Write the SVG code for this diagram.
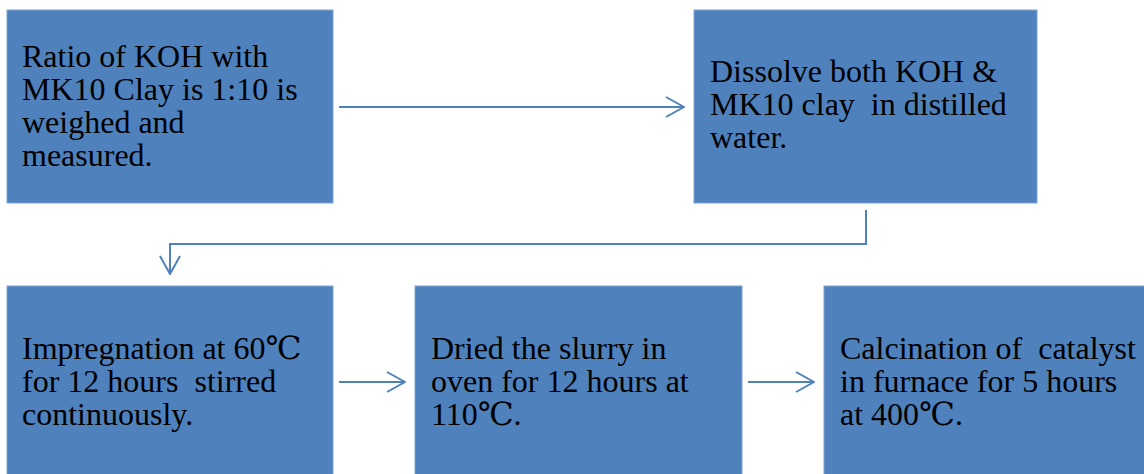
<svg xmlns="http://www.w3.org/2000/svg" width="1144" height="474" viewBox="0 0 1144 474">
  <style>
    .box { fill: #4F81BD; stroke: #7FA3D3; stroke-width: 1; }
    .t { font-family: 'Liberation Serif', 'Times New Roman', 'DejaVu Serif', serif; font-size: 32px; fill: #000; }
    .c { fill: none; stroke: #4F81BD; stroke-width: 2; }
  </style>
  <defs>
    <marker id="arr" viewBox="0 0 20 22" refX="19" refY="11" markerWidth="20" markerHeight="22" markerUnits="userSpaceOnUse" orient="auto">
      <path d="M1,1 L19,11 L1,21" fill="none" stroke="#4F81BD" stroke-width="2"/>
    </marker>
  </defs>
  <rect width="1144" height="474" fill="#fff"/>
  <g id="connectors">
    <line class="c" x1="339" y1="107" x2="684" y2="107" marker-end="url(#arr)"/>
    <polyline class="c" points="866,210 866,244 170,244 170,274" marker-end="url(#arr)"/>
    <line class="c" x1="339" y1="382" x2="405" y2="382" marker-end="url(#arr)"/>
    <line class="c" x1="748" y1="382" x2="814" y2="382" marker-end="url(#arr)"/>
  </g>
  <g id="node1">
    <rect class="box" x="7" y="10" width="326" height="193"/>
    <text class="t" xml:space="preserve"><tspan x="22" y="67">Ratio of KOH with</tspan><tspan x="22" y="100">MK10 Clay is 1:10 is</tspan><tspan x="22" y="133">weighed and</tspan><tspan x="22" y="166">measured.</tspan></text>
  </g>
  <g id="node2">
    <rect class="box" x="694" y="10" width="343" height="193"/>
    <text class="t" xml:space="preserve"><tspan x="710" y="82">Dissolve both KOH &amp;</tspan><tspan x="710" y="115">MK10 clay  in distilled</tspan><tspan x="710" y="148">water.</tspan></text>
  </g>
  <g id="node3">
    <rect class="box" x="7" y="286" width="326" height="200"/>
    <text class="t" xml:space="preserve"><tspan x="22" y="359">Impregnation at 60℃</tspan><tspan x="22" y="392">for 12 hours  stirred</tspan><tspan x="22" y="425">continuously.</tspan></text>
  </g>
  <g id="node4">
    <rect class="box" x="415" y="286" width="327" height="200"/>
    <text class="t" xml:space="preserve"><tspan x="431" y="359">Dried the slurry in</tspan><tspan x="431" y="392">oven for 12 hours at</tspan><tspan x="431" y="425">110℃.</tspan></text>
  </g>
  <g id="node5">
    <rect class="box" x="824" y="286" width="330" height="200"/>
    <text class="t" xml:space="preserve"><tspan x="840" y="359">Calcination of  catalyst</tspan><tspan x="840" y="392">in furnace for 5 hours</tspan><tspan x="840" y="425">at 400℃.</tspan></text>
  </g>
</svg>
